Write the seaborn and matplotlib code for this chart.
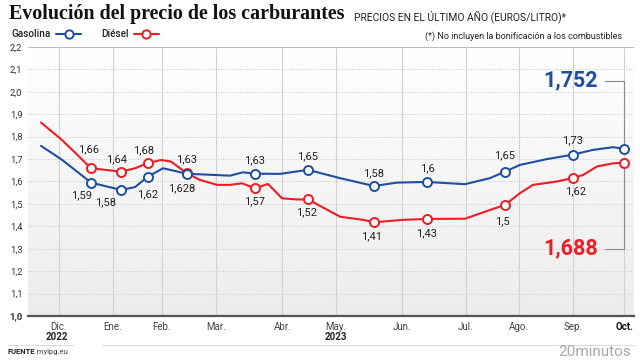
import numpy as np
import matplotlib
matplotlib.use('Agg')
import matplotlib.pyplot as plt
from matplotlib.colors import LinearSegmentedColormap
import seaborn as sns

# positions along the time axis (arbitrary units)
gas_x = [41, 61, 76, 91, 121, 135, 148, 163, 175, 187, 200, 230, 243, 255, 280, 308,
         340, 374, 397, 427, 465, 490, 505, 520, 547, 573, 593, 613, 624]
gas_y = [1.759, 1.70, 1.648, 1.595, 1.5625, 1.575, 1.622, 1.659, 1.647, 1.634, 1.632,
         1.626, 1.641, 1.635, 1.634, 1.652, 1.615, 1.58, 1.595, 1.598, 1.588, 1.615,
         1.644, 1.674, 1.70, 1.72, 1.741, 1.753, 1.746]

die_x = [41, 61, 75, 91, 121, 135, 148, 161, 171, 187, 200, 217, 230, 242, 255, 268,
         282, 297, 308, 340, 363, 374, 403, 427, 465, 490, 505, 520, 533, 557, 573,
         583, 597, 613, 624]
die_y = [1.863, 1.789, 1.729, 1.659, 1.644, 1.659, 1.682, 1.696, 1.689, 1.636, 1.607,
         1.585, 1.585, 1.592, 1.570, 1.589, 1.525, 1.52, 1.52, 1.443, 1.429, 1.418,
         1.429, 1.433, 1.434, 1.473, 1.496, 1.548, 1.585, 1.60, 1.616, 1.629, 1.667,
         1.681, 1.684]

# marked points
mark_x = [91, 121, 148, 187, 255, 308, 374, 427, 505, 573, 624]
gas_mark = [1.595, 1.5625, 1.622, 1.634, 1.635, 1.652, 1.58, 1.598, 1.644, 1.72, 1.746]
die_mark = [1.659, 1.644, 1.682, 1.636, 1.570, 1.52, 1.418, 1.433, 1.496, 1.616, 1.684]
gas_labels = ['1,59', '1,58', '1,62', '1,628', '1,63', '1,65', '1,58', '1,6', '1,65', '1,73']
die_labels = ['1,66', '1,64', '1,68', '1,63', '1,57', '1,52', '1,41', '1,43', '1,5', '1,62']
gas_last = '1,752'
die_last = '1,688'

month_pos = [58.7, 112.7, 161.7, 215.7, 282.3, 335.7, 401.7, 465.7, 519, 572.7, 624.3]
month_names = ['Dic.', 'Ene.', 'Feb.', 'Mar.', 'Abr.', 'May.', 'Jun.', 'Jul.', 'Ago.',
               'Sep.', 'Oct.']
y_ticks = [1.0, 1.1, 1.2, 1.3, 1.4, 1.5, 1.6, 1.7, 1.8, 1.9, 2.0, 2.1, 2.2]

BLUE = '#1f4e9e'
RED = '#ee1c25'

sns.set_style('white')
plt.rcParams['font.family'] = ['Roboto', 'DejaVu Sans']

fig = plt.figure(figsize=(6.4, 3.6), dpi=100)
ax = fig.add_axes([28 / 640, 44 / 360, 606 / 640, 269 / 360])
ax.set_xlim(28, 634)
ax.set_ylim(1.0, 2.2)

# background gradient
grad = LinearSegmentedColormap.from_list('bg', ['#ffffff', '#ececec'])
ax.imshow(np.linspace(0, 1, 100)[:, None], extent=[28, 634, 1.0, 2.2], aspect='auto',
          cmap=grad, zorder=0)

for v in y_ticks[1:]:
    ax.axhline(v, color='#c8c8c8', lw=0.7, ls=(0, (1, 1.5)), zorder=1)
ax.axhline(2.2, color='#bdbdbd', lw=0.8, zorder=1)
for p in month_pos:
    ax.axvline(p, color='#d2d2d2', lw=0.8, zorder=1)

sns.lineplot(x=die_x, y=die_y, color=RED, lw=1.5, ax=ax, zorder=3)
sns.lineplot(x=gas_x, y=gas_y, color=BLUE, lw=1.5, ax=ax, zorder=4)
sns.scatterplot(x=mark_x, y=die_mark, s=42, facecolor='white', edgecolor=RED,
                linewidth=1.4, ax=ax, zorder=5)
sns.scatterplot(x=mark_x, y=gas_mark, s=42, facecolor='white', edgecolor=BLUE,
                linewidth=1.4, ax=ax, zorder=6)

# value labels (offsets in points)
gas_off = [(-7, -9), (-11, -9), (0, -13), (-4, -10), (0, 9.5), (0, 9.5), (0, 9.5),
           (0, 10), (0, 12), (0, 10)]
die_off = [(-1.5, 13.5), (-3.5, 9), (-3.5, 9), (0, 10), (0, -9.5), (-1, -9.5),
           (-1.5, -10), (0, -10), (-2, -11.5), (2, -9.5)]
for i, lab in enumerate(gas_labels):
    ax.annotate(lab, (mark_x[i], gas_mark[i]), xytext=gas_off[i], textcoords='offset points',
                ha='center', va='center', fontsize=8, color='#222222', zorder=7)
for i, lab in enumerate(die_labels):
    ax.annotate(lab, (mark_x[i], die_mark[i]), xytext=die_off[i], textcoords='offset points',
                ha='center', va='center', fontsize=8, color='#222222', zorder=7)

# callouts for last values
ax.annotate(gas_last, (mark_x[-1], gas_mark[-1]), xytext=(598, 2.05), textcoords='data',
            ha='right', va='center', fontsize=15.5, fontweight='bold', color=BLUE,
            arrowprops=dict(arrowstyle='-', color='#8a8a8a', lw=0.8,
                            connectionstyle='angle,angleA=0,angleB=90,rad=0',
                            shrinkA=3, shrinkB=4))
ax.annotate(die_last, (mark_x[-1], die_mark[-1]), xytext=(598, 1.30), textcoords='data',
            ha='right', va='center', fontsize=15.5, fontweight='bold', color=RED,
            arrowprops=dict(arrowstyle='-', color='#8a8a8a', lw=0.8,
                            connectionstyle='angle,angleA=0,angleB=90,rad=0',
                            shrinkA=3, shrinkB=4))

# axes styling
for s in ['top', 'right', 'left']:
    ax.spines[s].set_visible(False)
ax.spines['bottom'].set_color('#555555')
ax.spines['bottom'].set_linewidth(1.6)
ax.spines['bottom'].set_zorder(8)

ax.set_yticks(y_ticks)
ax.set_yticklabels([f'{v:.1f}'.replace('.', ',') for v in y_ticks], fontsize=6.8,
                   color='#333333')
ax.get_yticklabels()[0].set_fontweight('bold')
ax.set_xticks(month_pos)
ax.set_xticklabels(month_names, fontsize=7, color='#444444')
ax.get_xticklabels()[-1].set_fontweight('bold')
ax.get_xticklabels()[-1].set_color('#111111')
ax.tick_params(axis='both', length=0)
ax.tick_params(axis='x', pad=4)
ax.tick_params(axis='y', pad=4)
ax.set_xlabel('')
ax.set_ylabel('')

# years
fig.text(57 / 640, 1 - 337 / 360, '2022', ha='center', va='center', fontsize=7,
         fontweight='bold', color='#222222')
fig.text(336 / 640, 1 - 337 / 360, '2023', ha='center', va='center', fontsize=7,
         fontweight='bold', color='#222222')
fig.add_artist(plt.Line2D([8 / 640, 73 / 640], [1 - 345 / 360] * 2, color='#dddddd', lw=0.8))
fig.add_artist(plt.Line2D([102 / 640, 634 / 640], [1 - 345 / 360] * 2, color='#dddddd', lw=0.8))

# titles
fig.text(9 / 640, 1 - 14 / 360, 'Evolución del precio de los carburantes', ha='left',
         va='center', fontsize=14.4, fontweight='bold', family='Liberation Serif',
         color='#111111')
fig.text(354 / 640, 1 - 16.5 / 360, 'PRECIOS EN EL ÚLTIMO AÑO (EUROS/LITRO)*', ha='left',
         va='center', fontsize=7.4, color='#222222')
fig.text(622 / 640, 1 - 36 / 360, '(*) No incluyen la bonificación a los combustibles',
         ha='right', va='center', fontsize=6.5, color='#222222')

# legend
h_gas = plt.Line2D([], [], color=BLUE, lw=1.5, marker='o', markersize=6,
                   markerfacecolor='white', markeredgewidth=1.4)
h_die = plt.Line2D([], [], color=RED, lw=1.5, marker='o', markersize=6,
                   markerfacecolor='white', markeredgewidth=1.4)
leg = fig.legend([h_gas, h_die], ['Gasolina', 'Diésel'], ncol=2, markerfirst=False,
                 frameon=False, loc='center left', bbox_to_anchor=(12 / 640, 1 - 34 / 360),
                 fontsize=7.2, handlelength=2.5, columnspacing=2.0, handletextpad=0.5,
                 borderpad=0, borderaxespad=0)
for t in leg.get_texts():
    t.set_fontweight('medium')
    t.set_color('#222222')

# footer
fig.text(8 / 640, 1 - 352 / 360, 'FUENTE', ha='left', va='center', fontsize=5.5,
         fontweight='bold', color='#222222')
fig.text(33 / 640, 1 - 352 / 360, ': mylpg.eu', ha='left', va='center', fontsize=5.5,
         color='#444444')
fig.text(631 / 640, 1 - 352 / 360, '20minutos', ha='right', va='center', fontsize=11,
         color='#a8a8a8')

fig.savefig('out.png', dpi=100)
